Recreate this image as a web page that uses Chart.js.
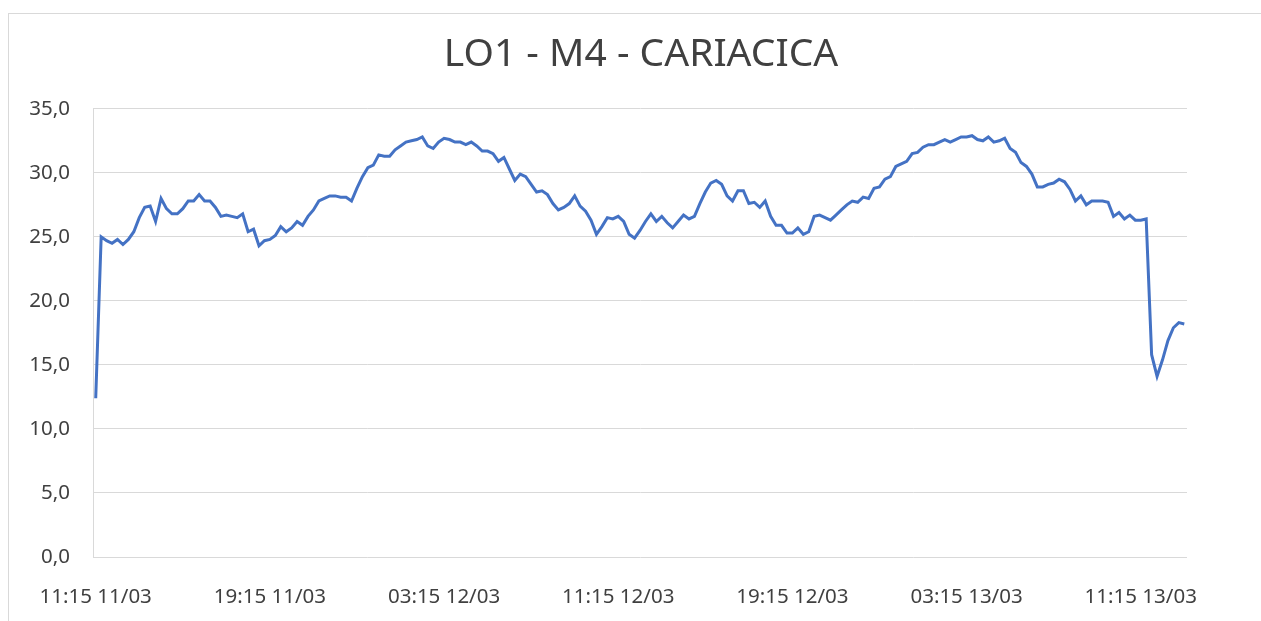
<!DOCTYPE html>
<html>
<head>
<meta charset="utf-8">
<script src="https://cdn.jsdelivr.net/npm/chart.js@4/dist/chart.umd.min.js"></script>
<style>
    html, body { margin: 0; padding: 0; background: #ffffff; overflow: hidden; }
    #frame {
        position: absolute;
        left: 8px;
        top: 13px;
        width: 1400px;
        height: 800px;
        border: 1px solid #d9d9d9;
        box-sizing: border-box;
    }
    #chart { position: absolute; left: 0; top: 0; }
</style>
</head>
<body>
<div id="frame"></div>
<canvas id="chart" width="1261" height="621"></canvas>
<script>
// readings every 15 minutes, 11/03 11:15 -> 13/03 13:15
const temp1103 = [
    12.4, 25.0, 24.7, 24.5, 24.8, 24.4, 24.8, 25.4, 26.5, 27.3,
    27.4, 26.2, 28.0, 27.2, 26.8, 26.8, 27.2, 27.8, 27.8, 28.3,
    27.8, 27.8, 27.3, 26.6, 26.7, 26.6, 26.5, 26.8, 25.4, 25.6,
    24.3, 24.7, 24.8, 25.1, 25.8, 25.4, 25.7, 26.2, 25.9, 26.6,
    27.1, 27.8, 28.0, 28.2, 28.2, 28.1, 28.1, 27.8, 28.8, 29.7,
    30.4,
];
const temp1203 = [
    30.6, 31.4, 31.3, 31.3, 31.8, 32.1, 32.4, 32.5, 32.6, 32.8,
    32.1, 31.9, 32.4, 32.7, 32.6, 32.4, 32.4, 32.2, 32.4, 32.1,
    31.7, 31.7, 31.5, 30.9, 31.2, 30.3, 29.4, 29.9, 29.7, 29.1,
    28.5, 28.6, 28.3, 27.6, 27.1, 27.3, 27.6, 28.2, 27.4, 27.0,
    26.3, 25.2, 25.8, 26.5, 26.4, 26.6, 26.2, 25.2, 24.9, 25.5,
    26.2, 26.8, 26.2, 26.6, 26.1, 25.7, 26.2, 26.7, 26.4, 26.6,
    27.6, 28.5, 29.2, 29.4, 29.1, 28.2, 27.8, 28.6, 28.6, 27.6,
    27.7, 27.3, 27.8, 26.6, 25.9, 25.9, 25.3, 25.3, 25.7, 25.2,
    25.4, 26.6, 26.7, 26.5, 26.3, 26.7, 27.1, 27.5, 27.8, 27.7,
    28.1, 28.0, 28.8, 28.9, 29.5, 29.7,
];
const temp1303 = [
    30.5, 30.7, 30.9, 31.5, 31.6, 32.0, 32.2, 32.2, 32.4, 32.6,
    32.4, 32.6, 32.8, 32.8, 32.9, 32.6, 32.5, 32.8, 32.4, 32.5,
    32.7, 31.9, 31.6, 30.8, 30.5, 29.9, 28.9, 28.9, 29.1, 29.2,
    29.5, 29.3, 28.7, 27.8, 28.2, 27.5, 27.8, 27.8, 27.8, 27.7,
    26.6, 26.9, 26.4, 26.7, 26.3, 26.3, 26.4, 15.8, 14.1, 15.4,
    16.9, 17.9, 18.3, 18.2,
];

const tickLabels = ['11:15 11/03', '19:15 11/03', '03:15 12/03', '11:15 12/03', '19:15 12/03', '03:15 13/03', '11:15 13/03'];
const yTicks = [0, 5, 10, 15, 20, 25, 30, 35];

function pad(n) {
    return String(n).padStart(2, '0');
}

function dayLabels(day, startMinutes, count) {
    const out = [];
    for (let k = 0; k < count; k++) {
        const m = startMinutes + k * 15;
        out.push(`${pad(Math.floor(m / 60))}:${pad(m % 60)} ${day}`);
    }
    return out;
}

const categories = [
    ...dayLabels('11/03', 11 * 60 + 15, temp1103.length),
    ...dayLabels('12/03', 0, temp1203.length),
    ...dayLabels('13/03', 0, temp1303.length),
];
const values = [...temp1103, ...temp1203, ...temp1303];

const textColor = '#404040';
const gridColor = '#d9d9d9';
const fontFamily = '"Noto Sans", "Open Sans", sans-serif';

new Chart(document.getElementById('chart'), {
    type: 'line',
    data: {
        labels: categories,
        datasets: [{
            label: 'LO1 - M4 - CARIACICA',
            data: values,
            borderColor: '#4472C4',
            borderWidth: 3,
            pointRadius: 0,
            tension: 0,
            fill: false,
        }],
    },
    options: {
        responsive: false,
        animation: false,
        devicePixelRatio: 1,
        // left 21 + right 0 keeps the title centred on the whole picture
        layout: { padding: { left: 21, right: 0, top: 13, bottom: 0 } },
        plugins: {
            legend: { display: false },
            tooltip: { enabled: false },
            title: {
                display: true,
                text: 'LO1 - M4 - CARIACICA',
                color: '#404040',
                font: { family: fontFamily, size: 39, weight: 'normal', lineHeight: 1.2 },
                padding: { top: 18, bottom: 31 },
            },
        },
        scales: {
            x: {
                offset: true,
                grid: { display: false, drawTicks: false },
                border: { display: false },
                ticks: {
                    autoSkip: false,
                    maxRotation: 0,
                    minRotation: 0,
                    padding: 28,
                    color: textColor,
                    font: { family: fontFamily, size: 20.5 },
                    callback: (_value, index) => (tickLabels.includes(categories[index]) ? categories[index] : ''),
                },
                afterFit: (scale) => { scale.height = 64; },
            },
            y: {
                min: 0,
                max: 35,
                grid: { color: gridColor, lineWidth: 1, drawTicks: false },
                border: { display: true, color: gridColor, width: 1 },
                afterBuildTicks: (scale) => { scale.ticks = yTicks.map((v) => ({ value: v })); },
                ticks: {
                    padding: 23,
                    color: textColor,
                    font: { family: fontFamily, size: 20.5 },
                    callback: (value) => value.toFixed(1).replace('.', ','),
                },
                afterFit: (scale) => { scale.width = 72; },
            },
            // empty strip on the right, only to leave room after the plot
            spacer: {
                position: 'right',
                display: true,
                grid: { display: false, drawTicks: false },
                border: { display: false },
                ticks: { display: false },
                afterFit: (scale) => { scale.width = 74; },
            },
        },
    },
});
</script>
</body>
</html>
